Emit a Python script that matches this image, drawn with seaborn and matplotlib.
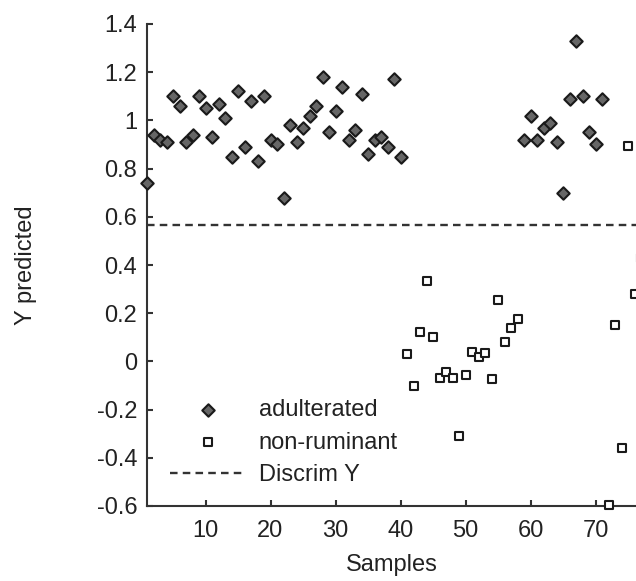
import matplotlib
matplotlib.use("Agg")
import matplotlib.pyplot as plt
import matplotlib.ticker as mticker
import seaborn as sns
import pandas as pd

# ---- data ----
adult_x = list(range(1, 41)) + list(range(59, 72))
adult_y = [0.74, 0.94, 0.92, 0.91, 1.10, 1.06, 0.91, 0.94, 1.10, 1.05,
           0.93, 1.07, 1.01, 0.85, 1.12, 0.89, 1.08, 0.83, 1.10, 0.92,
           0.90, 0.68, 0.98, 0.91, 0.97, 1.02, 1.06, 1.18, 0.95, 1.04,
           1.14, 0.92, 0.96, 1.11, 0.86, 0.92, 0.93, 0.89, 1.17, 0.85,
           0.92, 1.02, 0.92, 0.97, 0.99, 0.91, 0.70, 1.09, 1.33, 1.10,
           0.95, 0.90, 1.09]
nonrum_x = list(range(41, 59)) + list(range(72, 78))
nonrum_y = [0.03, -0.10, 0.12, 0.335, 0.10, -0.07, -0.045, -0.07, -0.31, -0.055,
            0.04, 0.02, 0.035, -0.075, 0.255, 0.08, 0.14, 0.175,
            -0.595, 0.15, -0.36, 0.895, 0.28, 0.43]
discrim_y = 0.567
x_ticks = [10, 20, 30, 40, 50, 60, 70]
y_ticks = [-0.6, -0.4, -0.2, 0, 0.2, 0.4, 0.6, 0.8, 1, 1.2, 1.4]

sns.set_theme(style="white")
plt.rcParams["font.family"] = ["Liberation Sans", "DejaVu Sans"]
plt.rcParams["axes.unicode_minus"] = False

W, H = 636, 581
fig = plt.figure(figsize=(W / 100, H / 100), dpi=100)
left_px, right_px, top_px, bot_px = 147, 636, 24, 506
ax = fig.add_axes([left_px / W, 1 - bot_px / H, (right_px - left_px) / W, (bot_px - top_px) / H])

txt = "#222222"
fs = 17
df_a = pd.DataFrame({"x": adult_x, "y": adult_y})
df_n = pd.DataFrame({"x": nonrum_x, "y": nonrum_y})

sns.scatterplot(data=df_a, x="x", y="y", ax=ax, marker="D", s=40, color="#666666",
                edgecolor="#1a1a1a", linewidth=1.5, label="adulterated", clip_on=False, zorder=4)
sns.scatterplot(data=df_n, x="x", y="y", ax=ax, marker="s", s=30, color="white",
                edgecolor="#1a1a1a", linewidth=1.5, label="non-ruminant", clip_on=False, zorder=4)
ax.axhline(discrim_y, color="#333333", lw=1.7, ls=(0, (3.2, 2.2)), label="Discrim Y", zorder=3)

ax.set_xlim(1, 1 + (right_px - left_px) / 6.5)
ax.set_ylim(-0.6, 1.4)
ax.set_xticks(x_ticks)
ax.set_yticks(y_ticks)
ax.yaxis.set_major_formatter(mticker.FuncFormatter(lambda v, p: "%g" % round(v, 2)))

for s in ["top", "right"]:
    ax.spines[s].set_visible(False)
for s in ["left", "bottom"]:
    ax.spines[s].set_color("#333333")
    ax.spines[s].set_linewidth(1.5)

ax.tick_params(axis="both", direction="in", length=4, width=1.5, color="#333333",
               labelsize=fs, labelcolor=txt, left=True, bottom=True)
ax.tick_params(axis="x", pad=10)
ax.tick_params(axis="y", pad=7)

ax.set_xlabel("Samples", fontsize=fs, color=txt)
ax.set_ylabel("Y predicted", fontsize=fs, color=txt)
ax.xaxis.set_label_coords(0.5, (bot_px - 554) / (bot_px - top_px))
ax.xaxis.label.set_va("top")
ax.yaxis.set_label_coords((37 - left_px) / (right_px - left_px), 0.5)

leg = ax.legend(loc="upper left",
                bbox_to_anchor=((170 - left_px) / (right_px - left_px), (bot_px - 399) / (bot_px - top_px)),
                frameon=False, fontsize=fs, handlelength=3.2, handletextpad=0.55,
                labelspacing=0.45, borderpad=0, borderaxespad=0)
for t in leg.get_texts():
    t.set_color(txt)

fig.savefig("out.png", dpi=100)
